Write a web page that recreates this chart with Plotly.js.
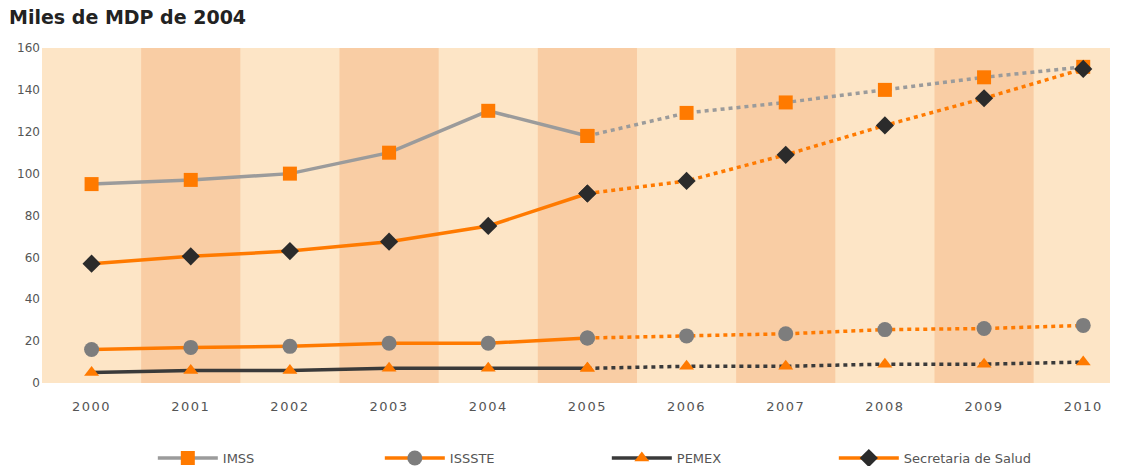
<!DOCTYPE html>
<html>
<head>
<meta charset="utf-8">
<script src="https://cdn.plot.ly/plotly-3.0.1.min.js"></script>
<style>html,body{margin:0;padding:0;background:#fff;}#chart{width:1132px;height:466px;}
.xtick text{letter-spacing:1.5px;}</style>
</head>
<body>
<div id="chart"></div>
<script>
const years = ["2000","2001","2002","2003","2004","2005","2006","2007","2008","2009","2010"];
const imss = [95, 97, 100, 110, 130, 118, 129, 134, 140, 146, 151];
const issste = [16, 17, 17.5, 19, 19, 21.5, 22.5, 23.5, 25.5, 26, 27.5];
const pemex = [5, 6, 6, 7, 7, 7, 8, 8, 9, 9, 10];
const salud = [57, 60.5, 63, 67.5, 75, 90.5, 96.5, 109, 123, 136, 150];
const seriesNames = ["IMSS", "ISSSTE", "PEMEX", "Secretaria de Salud"];
const splitIndex = 5; // last actual year (2005); later years projected

const ORANGE = "#ff7a00";
const xIdx = years.map((_, i) => i);

const styles = [
  {line: "#9b9b9b", marker: {symbol: "square", color: ORANGE, size: 14}},
  {line: ORANGE, marker: {symbol: "circle", color: "#7d7d7d", size: 15}},
  {line: "#3a3a3a", marker: {symbol: "triangle-up", color: ORANGE, size: 13}},
  {line: ORANGE, marker: {symbol: "diamond", color: "#2b2b2b", size: 14}}
];
const data = [imss, issste, pemex, salud];

const traces = [];
data.forEach((vals, k) => {
  const st = styles[k];
  traces.push({
    x: xIdx.slice(splitIndex), y: vals.slice(splitIndex),
    type: "scatter", mode: "lines+markers", showlegend: false,
    line: {color: st.line, width: 3.5, dash: "4px,4px"},
    marker: Object.assign({line: {width: 0}}, st.marker),
    hoverinfo: "skip"
  });
  traces.push({
    x: xIdx.slice(0, splitIndex + 1), y: vals.slice(0, splitIndex + 1),
    type: "scatter", mode: "lines+markers", name: seriesNames[k],
    line: {color: st.line, width: 3.5},
    marker: Object.assign({line: {width: 0}}, st.marker)
  });
});
const ordered = [];
for (let k = 0; k < 4; k++) ordered.push(traces[2*k+1]);
for (let k = 0; k < 4; k++) ordered.push(traces[2*k]);

const shapes = [];
years.forEach((y, i) => {
  if (i % 2 === 1) {
    shapes.push({type: "rect", xref: "x", yref: "paper", x0: i - 0.5, x1: i + 0.5, y0: 0, y1: 1,
      fillcolor: "#f9cda4", line: {width: 0}, layer: "below"});
  }
});

const layout = {
  width: 1132, height: 466,
  margin: {l: 42, r: 22, t: 48, b: 83},
  paper_bgcolor: "#ffffff",
  plot_bgcolor: "#fde5c6",
  font: {family: "DejaVu Sans, sans-serif", color: "#555", size: 12},
  title: {text: "<b>Miles de MDP de 2004</b>", x: 0.008, xanchor: "left", y: 0.962, yanchor: "middle",
    font: {family: "DejaVu Sans, sans-serif", size: 19, color: "#222"}},
  xaxis: {range: [-0.5, 10.27], tickmode: "array", tickvals: xIdx, ticktext: years,
    showgrid: false, zeroline: false, showline: false, ticks: "", fixedrange: true,
    ticklabelstandoff: 14, automargin: false,
    tickfont: {size: 13, color: "#555"}},
  yaxis: {range: [0, 160], tickvals: [0,20,40,60,80,100,120,140,160],
    showgrid: false, zeroline: false, showline: false, ticks: "", fixedrange: true,
    ticklabelstandoff: 1, automargin: false,
    tickfont: {size: 12, color: "#555"}},
  shapes: shapes,
  showlegend: true,
  legend: {orientation: "h", xref: "container", yref: "container", x: 0.135, xanchor: "left",
    y: 0.017, yanchor: "middle", itemwidth: 60, entrywidth: 152, entrywidthmode: "pixels",
    font: {size: 13, color: "#555"}, bgcolor: "rgba(0,0,0,0)"}
};

Plotly.newPlot("chart", ordered, layout, {displayModeBar: false, staticPlot: true});
</script>
</body>
</html>
